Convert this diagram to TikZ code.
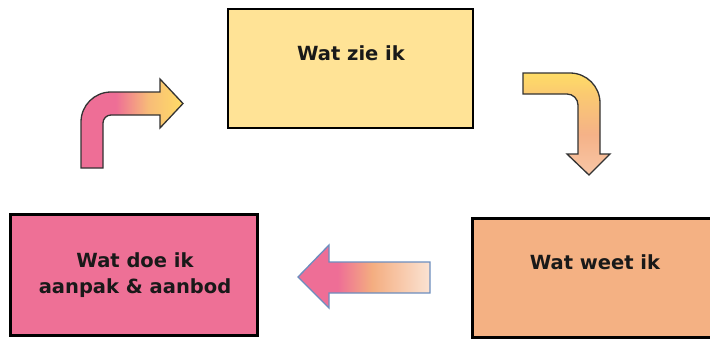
\documentclass[tikz,border=0pt]{standalone}
\usepackage{fontspec}
\setmainfont{DejaVu Sans}
\definecolor{boxyellow}{HTML}{FFE396}
\definecolor{boxpink}{HTML}{EE7096}
\definecolor{boxpeach}{HTML}{F4B183}
\definecolor{gpink}{HTML}{EE6E96}
\definecolor{gorange}{HTML}{F4AD80}
\definecolor{gyellow}{HTML}{FFDD66}
\definecolor{glight}{HTML}{FBE3D3}
\definecolor{gpeach}{HTML}{F8C6A6}
\definecolor{steel}{HTML}{6C8EBF}
\definecolor{outline}{HTML}{333333}
\pgfdeclarehorizontalshading{tlshade}{100bp}{color(0bp)=(gpink); color(25bp)=(gpink); color(42bp)=(gpink); color(58bp)=(gorange!70!gyellow); color(75bp)=(gyellow); color(100bp)=(gyellow)}
\pgfdeclareverticalshading{trshade}{100bp}{color(0bp)=(gpeach); color(25bp)=(gpeach); color(45bp)=(gorange!80!gpeach); color(65bp)=(gyellow!60!gorange); color(75bp)=(gyellow); color(100bp)=(gyellow)}
\pgfdeclarehorizontalshading{bshade}{100bp}{color(0bp)=(gpink); color(25bp)=(gpink); color(40bp)=(gpink); color(53bp)=(gorange); color(75bp)=(glight); color(100bp)=(glight)}
\tikzset{
  box/.style={draw=black, line width=2.7pt, inner sep=0pt},
  lbl/.style={font=\fontsize{19.5}{26}\selectfont\bfseries, text=black!90, align=center, inner sep=0pt},
  bent/.style={draw=outline, line width=1.3pt, line join=miter},
}
\begin{document}
\begin{tikzpicture}[x=1pt,y=-1pt]
\useasboundingbox (0,0) rectangle (710,338);
\clip (0,0) rectangle (710,338);
% boxes
\node[box, fill=boxyellow, minimum width=245pt, minimum height=119pt] (see) at (350.5,68.5) {};
\node[box, fill=boxpink, minimum width=247pt, minimum height=121pt] (do) at (134,275) {};
\node[box, fill=boxpeach, minimum width=260pt, minimum height=119pt, anchor=north west] (know) at (471,217) {};
% labels
\node[lbl] (seet) at (351,53) {Wat zie ik};
\node[lbl] (dot) at (135,275) {Wat doe ik\\aanpak \& aanbod};
\node[lbl] (knowt) at (595,262) {Wat weet ik};
% top-left bent arrow
\path[bent, shading=tlshade, shading angle=0]
  (81,168) -- (81,122) .. controls (81,105.4) and (94.4,92) .. (111,92)
  -- (160,92) -- (160,79) -- (183,103.5) -- (160,128) -- (160,115) -- (111,115)
  .. controls (106.6,115) and (103,118.6) .. (103,123) -- (103,168) -- cycle;
% top-right bent arrow
\path[bent, shading=trshade]
  (523,73) -- (570,73) .. controls (586.6,73) and (600,86.4) .. (600,103)
  -- (600,154) -- (610,154) -- (589,175) -- (567,154) -- (578,154) -- (578,105)
  .. controls (578,98.9) and (573.1,94) .. (567,94) -- (523,94) -- cycle;
% bottom arrow
\path[draw=steel, line width=1.3pt, shading=bshade]
  (430,262) -- (329,262) -- (329,245) -- (298,277) -- (329,308) -- (329,293) -- (430,293) -- cycle;
\end{tikzpicture}
\end{document}
